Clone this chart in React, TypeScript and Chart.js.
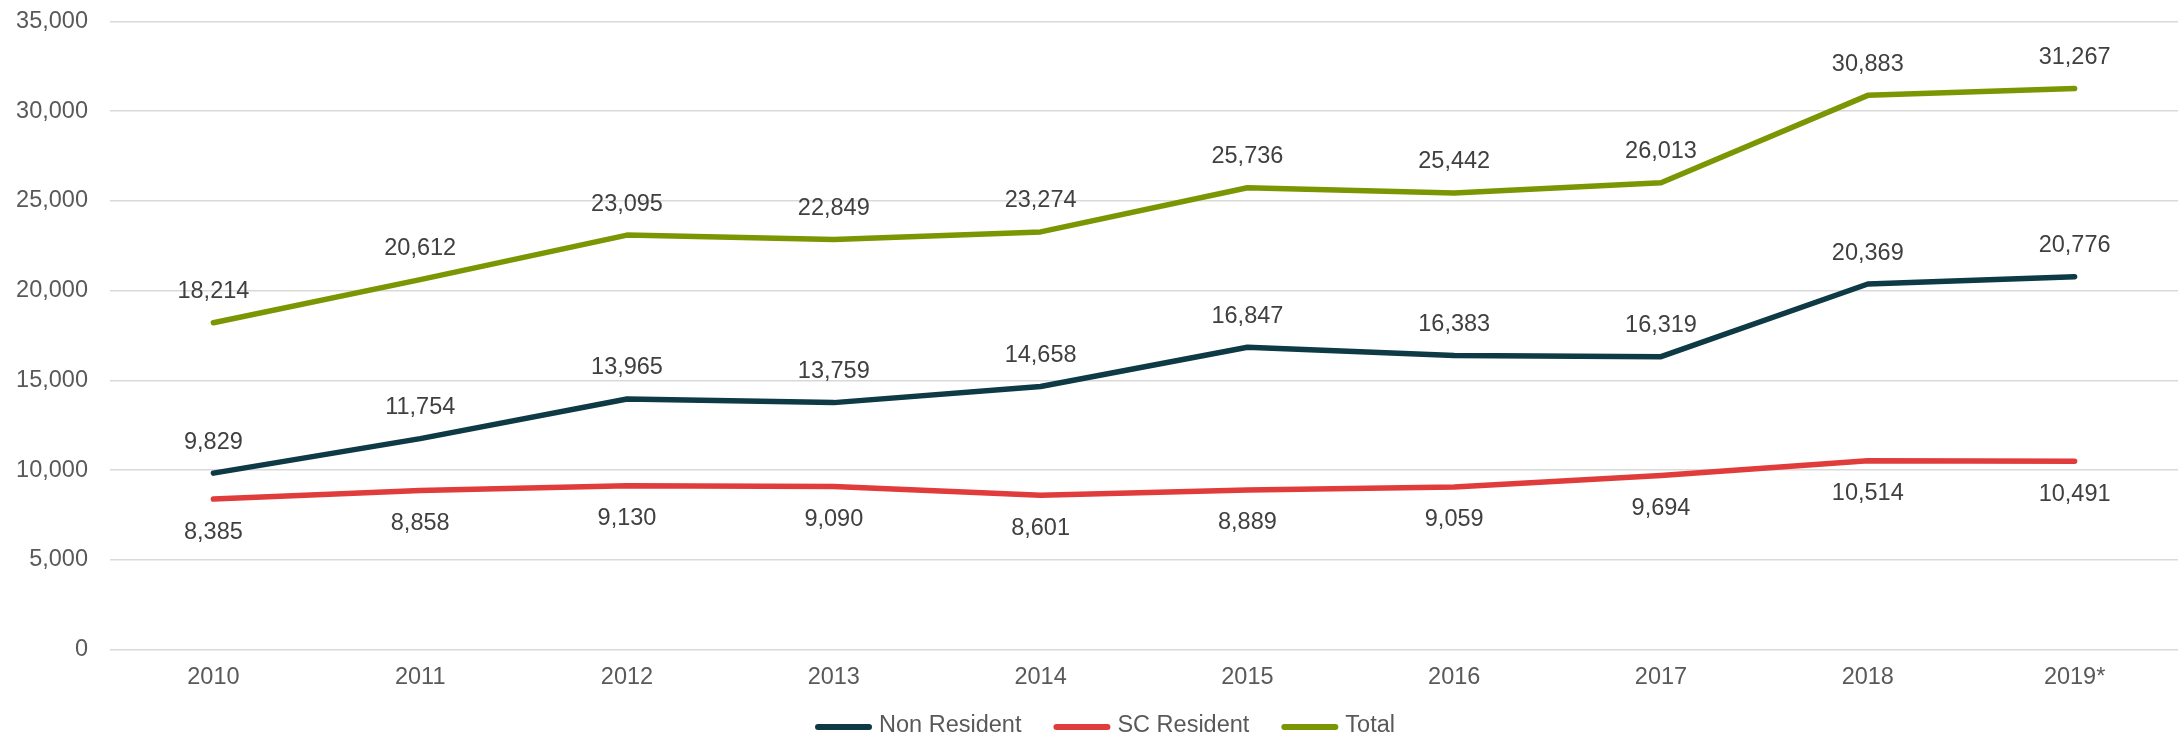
import React, { useEffect, useRef } from "react";
import { Chart, registerables } from "chart.js";

Chart.register(...registerables);

const years = ["2010", "2011", "2012", "2013", "2014", "2015", "2016", "2017", "2018", "2019*"];
const nonResident = [9829, 11754, 13965, 13759, 14658, 16847, 16383, 16319, 20369, 20776];
const scResident = [8385, 8858, 9130, 9090, 8601, 8889, 9059, 9694, 10514, 10491];
const total = [18214, 20612, 23095, 22849, 23274, 25736, 25442, 26013, 30883, 31267];
const yTicks = [0, 5000, 10000, 15000, 20000, 25000, 30000, 35000];

const FONT = "'Liberation Sans', Arial, Helvetica, sans-serif";
const FONT_SIZE = 23.5;
const fmt = (v: number) => v.toLocaleString("en-US");

// Value labels: every series above its points except SC Resident, which sits below.
const valueLabels = {
  id: "valueLabels",
  afterDatasetsDraw(chart: any) {
    const { ctx } = chart;
    ctx.save();
    ctx.font = `${FONT_SIZE}px ${FONT}`;
    ctx.fillStyle = "#404040";
    ctx.textAlign = "center";
    ctx.textBaseline = "middle";
    chart.data.datasets.forEach((ds: any, di: number) => {
      const meta = chart.getDatasetMeta(di);
      const below = ds.label === "SC Resident";
      meta.data.forEach((pt: any, i: number) => {
        const y = below ? pt.y + 33 : pt.y - 31;
        ctx.fillText(fmt(ds.data[i]), pt.x, y);
      });
    });
    ctx.restore();
  },
};

// Legend row along the bottom: rounded line swatch followed by the series name.
const lineLegend = {
  id: "lineLegend",
  afterDraw(chart: any) {
    const { ctx } = chart;
    const swatch = 51;
    const textGap = 10;
    const itemGap = 32;
    const y = 727;
    ctx.save();
    ctx.font = `${FONT_SIZE}px ${FONT}`;
    const items = chart.data.datasets.map((ds: any) => ({
      label: ds.label as string,
      color: ds.borderColor as string,
      w: ctx.measureText(ds.label).width,
    }));
    const totalW =
      items.reduce((s: number, it: any) => s + 3 + swatch + textGap + it.w, 0) +
      itemGap * (items.length - 1);
    let x = chart.width / 2 + 16 - totalW / 2;
    items.forEach((it: any) => {
      ctx.strokeStyle = it.color;
      ctx.lineWidth = 6;
      ctx.lineCap = "round";
      ctx.beginPath();
      ctx.moveTo(x + 3, y);
      ctx.lineTo(x + 3 + swatch, y);
      ctx.stroke();
      ctx.fillStyle = "#595959";
      ctx.textAlign = "left";
      ctx.textBaseline = "middle";
      ctx.fillText(it.label, x + 3 + swatch + textGap, y - 1);
      x += 3 + swatch + textGap + it.w + itemGap;
    });
    ctx.restore();
  },
};

export default function App() {
  const canvasRef = useRef<HTMLCanvasElement | null>(null);

  useEffect(() => {
    document.body.style.margin = "0";
    const canvas = canvasRef.current;
    if (!canvas) return;

    const lineStyle = {
      borderWidth: 5.5,
      pointRadius: 0,
      pointHoverRadius: 0,
      borderCapStyle: "round" as const,
      borderJoinStyle: "round" as const,
      tension: 0,
      fill: false,
    };

    const chart = new Chart(canvas, {
      type: "line",
      data: {
        labels: years,
        datasets: [
          { label: "Non Resident", data: nonResident, borderColor: "#0d3a44", backgroundColor: "#0d3a44", ...lineStyle },
          { label: "SC Resident", data: scResident, borderColor: "#e03c3b", backgroundColor: "#e03c3b", ...lineStyle },
          { label: "Total", data: total, borderColor: "#7a9703", backgroundColor: "#7a9703", ...lineStyle },
        ],
      },
      options: {
        animation: false,
        responsive: true,
        maintainAspectRatio: false,
        layout: { padding: { top: 21.5, right: 0, bottom: 37.5, left: 0 } },
        plugins: {
          legend: { display: false },
          tooltip: { enabled: false },
        },
        scales: {
          x: {
            offset: true,
            grid: { display: false, drawTicks: false },
            border: { display: false },
            ticks: {
              padding: 14,
              color: "#595959",
              font: { family: FONT, size: FONT_SIZE },
              maxRotation: 0,
              autoSkip: false,
            },
            afterFit: (scale: any) => {
              scale.height = 50;
            },
          },
          y: {
            min: yTicks[0],
            max: yTicks[yTicks.length - 1],
            grid: { color: "#d9d9d9", lineWidth: 1.5, drawTicks: false },
            border: { display: false },
            afterBuildTicks: (scale: any) => {
              scale.ticks = yTicks.map((v) => ({ value: v }));
            },
            ticks: {
              padding: 22,
              color: "#595959",
              font: { family: FONT, size: FONT_SIZE },
              callback: (v: any) => fmt(Number(v)),
            },
            afterFit: (scale: any) => {
              scale.width = 110;
              scale.paddingTop = 0;
              scale.paddingBottom = 0;
            },
          },
        },
      },
      plugins: [valueLabels, lineLegend],
    });

    return () => chart.destroy();
  }, []);

  return (
    <div style={{ position: "relative", width: 2178, height: 737 }}>
      <canvas ref={canvasRef} />
    </div>
  );
}
